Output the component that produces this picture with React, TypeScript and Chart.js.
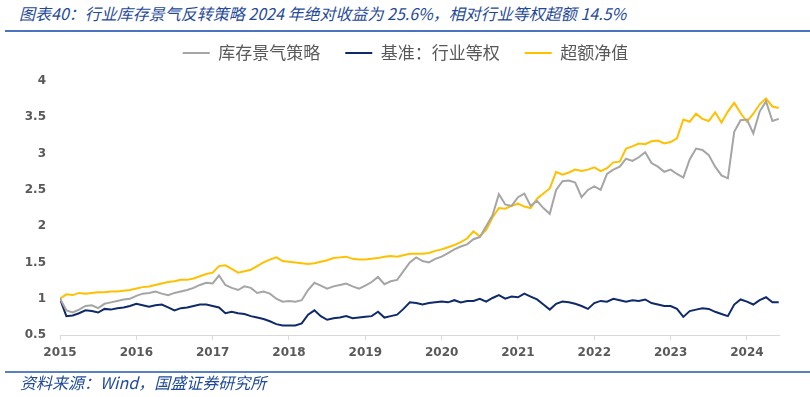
import React, { useEffect, useRef } from "react";
import { Chart, registerables } from "chart.js";

Chart.register(...registerables);

const titleText = "图表40：行业库存景气反转策略 2024 年绝对收益为 25.6%，相对行业等权超额 14.5%";
const sourceText = "资料来源：Wind，国盛证券研究所";

const seriesNames = ["库存景气策略", "基准：行业等权", "超额净值"];
const yearTicks = [2015, 2016, 2017, 2018, 2019, 2020, 2021, 2022, 2023, 2024];

const months: string[] = [
  "2015-01", "2015-02", "2015-03", "2015-04", "2015-05", "2015-06", "2015-07", "2015-08", "2015-09", "2015-10", "2015-11", "2015-12",
  "2016-01", "2016-02", "2016-03", "2016-04", "2016-05", "2016-06", "2016-07", "2016-08", "2016-09", "2016-10", "2016-11", "2016-12",
  "2017-01", "2017-02", "2017-03", "2017-04", "2017-05", "2017-06", "2017-07", "2017-08", "2017-09", "2017-10", "2017-11", "2017-12",
  "2018-01", "2018-02", "2018-03", "2018-04", "2018-05", "2018-06", "2018-07", "2018-08", "2018-09", "2018-10", "2018-11", "2018-12",
  "2019-01", "2019-02", "2019-03", "2019-04", "2019-05", "2019-06", "2019-07", "2019-08", "2019-09", "2019-10", "2019-11", "2019-12",
  "2020-01", "2020-02", "2020-03", "2020-04", "2020-05", "2020-06", "2020-07", "2020-08", "2020-09", "2020-10", "2020-11", "2020-12",
  "2021-01", "2021-02", "2021-03", "2021-04", "2021-05", "2021-06", "2021-07", "2021-08", "2021-09", "2021-10", "2021-11", "2021-12",
  "2022-01", "2022-02", "2022-03", "2022-04", "2022-05", "2022-06", "2022-07", "2022-08", "2022-09", "2022-10", "2022-11", "2022-12",
  "2023-01", "2023-02", "2023-03", "2023-04", "2023-05", "2023-06", "2023-07", "2023-08", "2023-09", "2023-10", "2023-11", "2023-12",
  "2024-01", "2024-02", "2024-03", "2024-04", "2024-05", "2024-06",
];

const strategy: number[] = [
  1.00, 0.84, 0.81, 0.85, 0.90, 0.91, 0.87, 0.93, 0.95, 0.97, 0.99, 1.00,
  1.04, 1.07, 1.08, 1.10, 1.07, 1.05, 1.08, 1.10, 1.12, 1.15, 1.19, 1.22,
  1.21, 1.32, 1.19, 1.15, 1.12, 1.17, 1.15, 1.08, 1.10, 1.07, 1.00, 0.96,
  0.97, 0.96, 0.98, 1.12, 1.22, 1.18, 1.14, 1.17, 1.19, 1.21, 1.17, 1.14,
  1.18, 1.23, 1.30, 1.20, 1.24, 1.26, 1.38, 1.50, 1.57, 1.52, 1.50, 1.55,
  1.58, 1.63, 1.68, 1.72, 1.75, 1.82, 1.85, 2.00, 2.15, 2.44, 2.30, 2.28,
  2.40, 2.45, 2.28, 2.35, 2.25, 2.17, 2.50, 2.62, 2.63, 2.60, 2.40, 2.50,
  2.55, 2.50, 2.72, 2.78, 2.82, 2.93, 2.90, 2.95, 3.02, 2.87, 2.82, 2.75,
  2.78, 2.72, 2.67, 2.92, 3.07, 3.05, 2.98, 2.82, 2.70, 2.66, 3.30, 3.46,
  3.47, 3.28, 3.58, 3.72, 3.45, 3.48,
];

const benchmark: number[] = [
  1.00, 0.76, 0.77, 0.80, 0.84, 0.83, 0.81, 0.86, 0.85, 0.87, 0.88, 0.90,
  0.93, 0.91, 0.89, 0.91, 0.92, 0.88, 0.84, 0.87, 0.88, 0.90, 0.92, 0.92,
  0.90, 0.88, 0.80, 0.82, 0.80, 0.79, 0.76, 0.74, 0.72, 0.69, 0.65, 0.63,
  0.63, 0.63, 0.66, 0.78, 0.84, 0.76, 0.71, 0.73, 0.74, 0.76, 0.73, 0.74,
  0.75, 0.76, 0.82, 0.74, 0.76, 0.78, 0.86, 0.95, 0.94, 0.92, 0.94, 0.95,
  0.96, 0.95, 0.98, 0.95, 0.97, 0.97, 1.00, 0.96, 1.01, 1.05, 1.00, 1.03,
  1.02, 1.07, 1.03, 0.99, 0.92, 0.85, 0.93, 0.96, 0.95, 0.93, 0.90, 0.86,
  0.94, 0.97, 0.96, 1.00, 0.98, 0.96, 0.98, 0.97, 0.99, 0.94, 0.92, 0.90,
  0.90, 0.86, 0.75, 0.83, 0.85, 0.87, 0.86, 0.82, 0.79, 0.76, 0.92, 0.99,
  0.96, 0.92, 0.98, 1.02, 0.95, 0.95,
];

const excess: number[] = [
  1.00, 1.06, 1.05, 1.08, 1.07, 1.08, 1.09, 1.09, 1.10, 1.10, 1.11, 1.12,
  1.14, 1.16, 1.17, 1.19, 1.21, 1.23, 1.24, 1.26, 1.26, 1.28, 1.31, 1.34,
  1.36, 1.45, 1.46, 1.41, 1.36, 1.38, 1.40, 1.45, 1.50, 1.54, 1.57, 1.52,
  1.51, 1.50, 1.49, 1.48, 1.49, 1.51, 1.53, 1.56, 1.57, 1.58, 1.55, 1.54,
  1.54, 1.55, 1.56, 1.58, 1.59, 1.58, 1.60, 1.62, 1.62, 1.62, 1.63, 1.66,
  1.68, 1.71, 1.74, 1.78, 1.83, 1.93, 1.86, 1.95, 2.12, 2.25, 2.24, 2.28,
  2.31, 2.27, 2.25, 2.38, 2.45, 2.52, 2.75, 2.71, 2.74, 2.78, 2.76, 2.78,
  2.81, 2.76, 2.80, 2.88, 2.89, 3.07, 3.10, 3.14, 3.13, 3.17, 3.18, 3.14,
  3.16, 3.21, 3.47, 3.44, 3.55, 3.48, 3.45, 3.57, 3.43, 3.58, 3.70, 3.56,
  3.44, 3.55, 3.68, 3.76, 3.65, 3.63,
];

const seriesColors = ["#A5A5A5", "#0E2A6B", "#FFC000"];

function toYear(m: string): number {
  const [y, mo] = m.split("-").map(Number);
  return y + (mo - 1) / 12;
}

const tickFont = { family: "'DejaVu Sans', Verdana, sans-serif", size: 12, weight: "bold" as const };

const legendShift = {
  id: "legendShift",
  afterLayout(chart: any) {
    if (chart.legend) {
      chart.legend.left += 5;
      chart.legend.right += 5;
    }
  },
};

export default function App() {
  const ref = useRef<HTMLCanvasElement>(null);

  useEffect(() => {
    if (!ref.current) return;
    const series = [strategy, benchmark, excess];
    const chart = new Chart(ref.current, {
      type: "line",
      data: {
        datasets: series.map((vals, k) => ({
          label: seriesNames[k],
          data: months.map((m, i) => ({ x: toYear(m), y: vals[i] })),
          borderColor: seriesColors[k],
          backgroundColor: seriesColors[k],
          borderWidth: 2,
          pointRadius: 0,
          tension: 0,
          fill: false,
        })),
      },
      plugins: [legendShift],
      options: {
        animation: false,
        responsive: false,
        maintainAspectRatio: false,
        layout: { padding: { left: 22, right: 31, top: 19.5, bottom: 30 } },
        plugins: {
          legend: {
            display: true,
            position: "top",
            labels: {
              usePointStyle: true,
              pointStyle: "line",
              pointStyleWidth: 27,
              padding: 25,
              color: "#595959",
              font: { family: "'Noto Sans CJK SC', sans-serif", size: 17 },
            },
          },
          title: {
            display: true,
            text: "",
            position: "top",
            weight: 500,
            padding: { top: 0, bottom: 0 },
            font: { size: 8, lineHeight: 1.2 },
          },
          tooltip: { enabled: false },
        },
        scales: {
          x: {
            type: "linear",
            min: 2015,
            max: 2024.42,
            afterBuildTicks: (s: any) => {
              s.ticks = yearTicks.map((v) => ({ value: v }));
            },
            grid: { drawOnChartArea: false, drawTicks: true, tickLength: 5, color: "#D9D9D9" },
            border: { display: true, color: "#D9D9D9", width: 1 },
            ticks: {
              autoSkip: false,
              maxRotation: 0,
              padding: 6,
              color: "#595959",
              font: tickFont,
              callback: (v: any) => String(v),
            },
          },
          y: {
            min: 0.5,
            max: 4,
            grid: { display: false, drawTicks: false, tickLength: 0 },
            border: { display: false },
            ticks: {
              stepSize: 0.5,
              padding: 14,
              color: "#595959",
              font: tickFont,
              callback: (v: any) => String(Number(v)),
            },
            afterFit: (s: any) => {
              s.width = 38;
              s.paddingBottom = 62;
            },
          },
        },
      },
    });
    return () => chart.destroy();
  }, []);

  return (
    <div style={{ position: "absolute", left: 0, top: 0, width: 810, height: 397, background: "#fff", overflow: "hidden" }}>
      <div
        style={{
          position: "absolute",
          left: 19,
          top: 3,
          fontFamily: "'Noto Sans CJK SC', sans-serif",
          fontStyle: "italic",
          fontSize: 16,
          lineHeight: "20px",
          color: "#1F4A99",
          whiteSpace: "nowrap",
        }}
      >
        {titleText}
      </div>
      <div style={{ position: "absolute", left: 5, top: 30, width: 805, height: 2, background: "#4A74C0" }} />
      <canvas ref={ref} width={810} height={397} style={{ position: "absolute", left: 0, top: 0, width: 810, height: 397 }} />
      <div style={{ position: "absolute", left: 5, top: 371, width: 805, height: 2, background: "#5A80C4" }} />
      <div
        style={{
          position: "absolute",
          left: 20,
          top: 372,
          fontFamily: "'Noto Sans CJK SC', sans-serif",
          fontStyle: "italic",
          fontSize: 16,
          lineHeight: "20px",
          color: "#1F4A99",
          whiteSpace: "nowrap",
        }}
      >
        {sourceText}
      </div>
    </div>
  );
}
